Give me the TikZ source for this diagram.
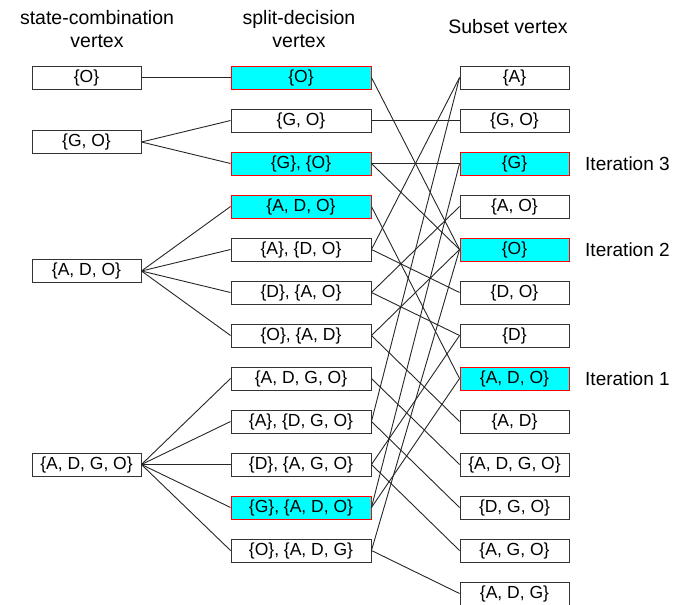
\documentclass[tikz,border=0pt]{standalone}
\usepackage{fontspec}
\setmainfont{Liberation Sans}
\definecolor{aqua}{RGB}{0,255,255}
\definecolor{hlred}{RGB}{255,0,0}
\begin{document}
\begin{tikzpicture}[x=1pt,y=-1pt,
 box/.style={draw=black!80, line width=0.9pt, minimum height=23pt, inner sep=0pt, font=\fontsize{17.5}{20}\selectfont},
 cola/.style={box, minimum width=109pt},
 colb/.style={box, minimum width=140pt},
 colc/.style={box, minimum width=109pt},
 hl/.style={fill=aqua, draw=hlred},
 ln/.style={line width=0.9pt, draw=black!85},
 ttl/.style={font=\fontsize{19.5}{23}\selectfont, align=center, inner sep=0pt},
 itl/.style={font=\fontsize{19}{21}\selectfont, anchor=west, inner sep=0pt}]
\useasboundingbox (0,0) rectangle (697,605);

% titles
\node[ttl] (t1) at (97,29) {state-combination\\vertex};
\node[ttl] (t2) at (299,29) {split-decision\\vertex};
\node[ttl] (t3) at (508,27) {Subset vertex};

% column 1
\node[cola] (a1) at (86.5,77.5) {\{O\}};
\node[cola] (a2) at (86.5,142) {\{G, O\}};
\node[cola] (a3) at (86.5,271) {\{A, D, O\}};
\node[cola] (a4) at (86.5,464.5) {\{A, D, G, O\}};

% column 2
\node[colb,hl] (b1) at (301,77.5) {\{O\}};
\node[colb] (b2) at (301,120.5) {\{G, O\}};
\node[colb,hl] (b3) at (301,163.5) {\{G\}, \{O\}};
\node[colb,hl] (b4) at (301,206.5) {\{A, D, O\}};
\node[colb] (b5) at (301,249.5) {\{A\}, \{D, O\}};
\node[colb] (b6) at (301,292.5) {\{D\}, \{A, O\}};
\node[colb] (b7) at (301,335.5) {\{O\}, \{A, D\}};
\node[colb] (b8) at (301,378.5) {\{A, D, G, O\}};
\node[colb] (b9) at (301,421.5) {\{A\}, \{D, G, O\}};
\node[colb] (b10) at (301,464.5) {\{D\}, \{A, G, O\}};
\node[colb,hl] (b11) at (301,507.5) {\{G\}, \{A, D, O\}};
\node[colb] (b12) at (301,550.5) {\{O\}, \{A, D, G\}};

% column 3
\node[colc] (c1) at (514.5,77.5) {\{A\}};
\node[colc] (c2) at (514.5,120.5) {\{G, O\}};
\node[colc,hl] (c3) at (514.5,163.5) {\{G\}};
\node[colc] (c4) at (514.5,206.5) {\{A, O\}};
\node[colc,hl] (c5) at (514.5,249.5) {\{O\}};
\node[colc] (c6) at (514.5,292.5) {\{D, O\}};
\node[colc] (c7) at (514.5,335.5) {\{D\}};
\node[colc,hl] (c8) at (514.5,378.5) {\{A, D, O\}};
\node[colc] (c9) at (514.5,421.5) {\{A, D\}};
\node[colc] (c10) at (514.5,464.5) {\{A, D, G, O\}};
\node[colc] (c11) at (514.5,507.5) {\{D, G, O\}};
\node[colc] (c12) at (514.5,550.5) {\{A, G, O\}};
\node[colc] (c13) at (514.5,593.5) {\{A, D, G\}};

% iteration labels
\node[itl] (i3) at (585,163.5) {Iteration 3};
\node[itl] (i2) at (585,249.5) {Iteration 2};
\node[itl] (i1) at (585,378.5) {Iteration 1};

% column 1 -> column 2
\draw[ln] (a1.east) -- (b1.west);
\foreach \j in {2,3} \draw[ln] (a2.east) -- (b\j.west);
\foreach \j in {4,5,6,7} \draw[ln] (a3.east) -- (b\j.west);
\foreach \j in {8,9,10,11,12} \draw[ln] (a4.east) -- (b\j.west);

% column 2 -> column 3
\foreach \s/\t in {b1/c5, b2/c2, b3/c3, b3/c5, b4/c8, b5/c1, b5/c6, b6/c7, b6/c4,
  b7/c5, b7/c9, b8/c10, b9/c1, b9/c11, b10/c7, b10/c12, b11/c3, b11/c8, b12/c5, b12/c13}
  \draw[ln] (\s.east) -- (\t.west);
\end{tikzpicture}
\end{document}
